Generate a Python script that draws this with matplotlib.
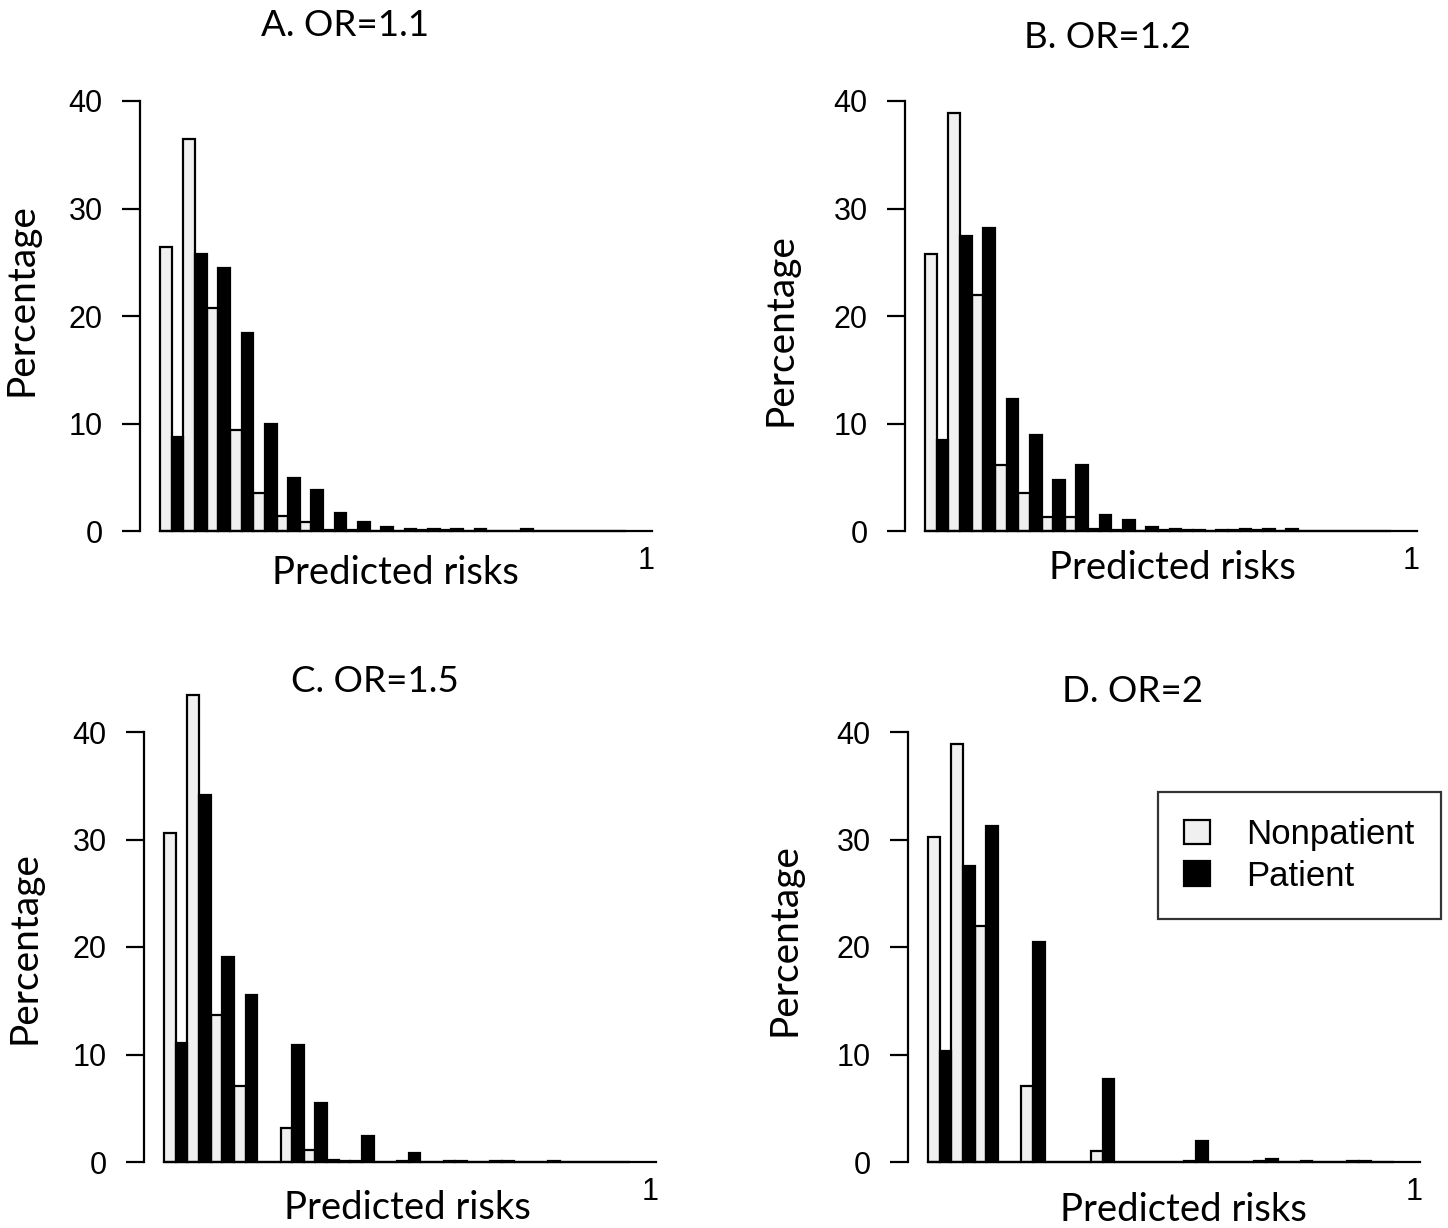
import numpy as np
import matplotlib.pyplot as plt

#   Data (percent per bin, 20 bins of predicted risk)
bins = np.arange(20)

nonpat_a = [26.4, 36.5, 20.7, 9.4, 3.5, 1.4, 0.8, 0.1, 0.05, 0.0, 0.0, 0.1, 0.1, 0.0, 0.0, 0.0, 0.0, 0.0, 0.0, 0.0]
pat_a = [8.7, 25.8, 24.5, 18.4, 10.0, 4.9, 3.8, 1.7, 0.85, 0.35, 0.15, 0.15, 0.2, 0.2, 0.0, 0.2, 0.0, 0.0, 0.0, 0.0]

nonpat_b = [25.8, 38.9, 22.0, 6.1, 3.5, 1.3, 1.3, 0.2, 0.1, 0.0, 0.1, 0.1, 0.0, 0.1, 0.1, 0.0, 0.0, 0.0, 0.0, 0.0]
pat_b = [8.5, 27.4, 28.2, 12.3, 8.9, 4.7, 6.1, 1.5, 1.05, 0.4, 0.15, 0.1, 0.1, 0.15, 0.15, 0.2, 0.0, 0.0, 0.0, 0.0]

nonpat_c = [30.6, 43.4, 13.7, 7.1, 0.0, 3.2, 1.1, 0.2, 0.1, 0.0, 0.1, 0.0, 0.1, 0.0, 0.1, 0.0, 0.0, 0.0, 0.0, 0.0]
pat_c = [11.1, 34.1, 19.1, 15.5, 0.0, 10.9, 5.5, 0.1, 2.4, 0.0, 0.87, 0.0, 0.1, 0.0, 0.1, 0.0, 0.1, 0.0, 0.0, 0.0]

nonpat_d = [30.2, 38.9, 22.0, 0.0, 7.05, 0.0, 0.0, 1.05, 0.0, 0.0, 0.0, 0.1, 0.0, 0.0, 0.1, 0.0, 0.1, 0.0, 0.1, 0.0]
pat_d = [10.3, 27.5, 31.3, 0.0, 20.5, 0.0, 0.0, 7.7, 0.0, 0.0, 0.0, 2.0, 0.0, 0.0, 0.3, 0.0, 0.0, 0.0, 0.1, 0.0]

titles = ["A. OR=1.1", "B. OR=1.2", "C. OR=1.5", "D. OR=2"]
yticks = [0, 10, 20, 30, 40]

W, H = 1448, 1228
fig = plt.figure(figsize=(W / 100, H / 100), dpi=100)

title_font = "Lato"
num_font = "Liberation Sans"

#   panel layout in pixels: spine x, zero y, forty y, title xy, xlabel xy, ylabel xy
panels = [
    (nonpat_a, pat_a, 140, 531, 101, (345, 25), (395, 573), (22, 300)),
    (nonpat_b, pat_b, 905, 531, 101, (1107, 37), (1172, 568), (780, 330)),
    (nonpat_c, pat_c, 144, 1162, 732, (375, 682), (407, 1208), (25, 948)),
    (nonpat_d, pat_d, 908, 1162, 732, (1133, 692), (1183, 1210), (785, 940)),
]

bin_px = 23.3
x_lo, x_hi = -0.86, 21.1
y_top = 45

for k, (wv, bv, xs, y0, y40, tpos, xlpos, ylpos) in enumerate(panels):
    px_per = (y0 - y40) / 40
    top_px = y0 - px_per * y_top
    w_px = (x_hi - x_lo) * bin_px
    ax = fig.add_axes([xs / W, 1 - y0 / H, w_px / W, (y0 - top_px) / H])
    ax.bar(bins, wv, width=0.5, align='edge', facecolor='#f0f0f0', edgecolor='black',
           linewidth=1.6, clip_on=False, label="Nonpatient")
    ax.bar(bins + 0.5, bv, width=0.5, align='edge', facecolor='black', edgecolor='black',
           linewidth=1.6, clip_on=False, label="Patient")
    ax.set_xlim(x_lo, x_hi)
    ax.set_ylim(0, y_top)
    ax.spines['top'].set_visible(False)
    ax.spines['right'].set_visible(False)
    ax.spines['left'].set_bounds(0, 40)
    ax.spines['bottom'].set_bounds(0, x_hi)
    for s in ['left', 'bottom']:
        ax.spines[s].set_linewidth(1.6)
    ax.set_yticks(yticks)
    ax.set_yticklabels([str(v) for v in yticks], fontsize=22, family=num_font)
    ax.tick_params(axis='y', length=13, width=1.6, pad=14)
    ax.set_xticks([20.85])
    ax.set_xticklabels(["1"], fontsize=22, family=num_font)
    ax.tick_params(axis='x', length=0, pad=11)

    fig.text(tpos[0] / W, 1 - tpos[1] / H, titles[k], ha='center', va='center',
             fontsize=26.5, family=title_font)
    fig.text(xlpos[0] / W, 1 - xlpos[1] / H, "Predicted risks", ha='center', va='center',
             fontsize=27.5, family=title_font)
    fig.text(ylpos[0] / W, 1 - ylpos[1] / H, "Percentage", ha='center', va='center',
             rotation=90, fontsize=28, family=title_font)

    if k == 3:
        leg = ax.legend(loc='upper left', bbox_to_anchor=(1158 / W, 1 - 792 / H),
                        bbox_transform=fig.transFigure, frameon=True, fancybox=False,
                        edgecolor='black', handlelength=0.75, handleheight=0.7,
                        handletextpad=1.05, borderpad=0.75, borderaxespad=0,
                        labelspacing=0.25, prop={'family': num_font, 'size': 25})
        leg.get_frame().set_linewidth(1.6)

fig.savefig("out.png", dpi=100)
